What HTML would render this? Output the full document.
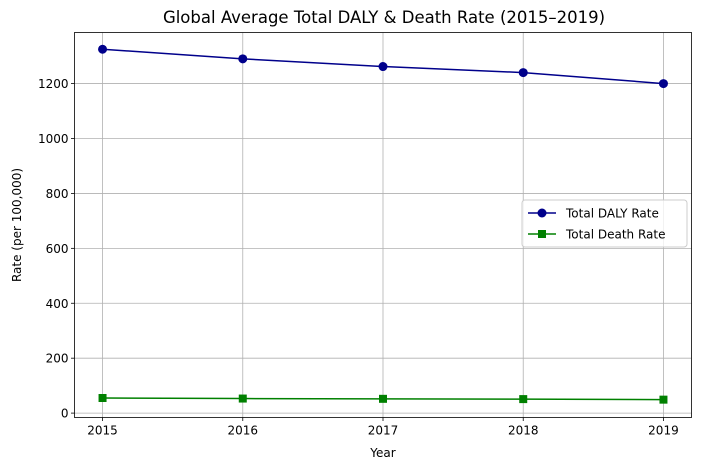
<!DOCTYPE html>
<html><head><meta charset="utf-8"><style>
body{margin:0;background:#fff;font-family:"DejaVu Sans","Liberation Sans",sans-serif;}
svg text{font-family:"DejaVu Sans","Liberation Sans",sans-serif;}
</style></head><body>
<svg id="c" width="704" height="470" xmlns="http://www.w3.org/2000/svg"></svg>
<script>
const years=[2015,2016,2017,2018,2019];
const dalyRate=[1325,1290,1262,1240,1200];
const deathRate=[55,53,52,51,49];
const yTicks=[0,200,400,600,800,1000,1200];
const L=74.5,R=691.5,T=32.5,B=417.5;
const xMin=2014.8,xMax=2019.2,yMin=-16,yMax=1386;
const X=v=>L+(v-xMin)/(xMax-xMin)*(R-L);
const Y=v=>B-(v-yMin)/(yMax-yMin)*(B-T);
const svg=document.getElementById('c');
const NS='http://www.w3.org/2000/svg';
function mk(t,a,p){const e=document.createElementNS(NS,t);for(const k in a)e.setAttribute(k,a[k]);(p||svg).appendChild(e);return e;}
let t=mk('text',{x:384,y:23,'text-anchor':'middle','font-size':16.5,fill:'#000'});t.textContent='Global Average Total DALY & Death Rate (2015–2019)';


years.forEach(yr=>{const x=X(yr);
 const g=mk('line',{x1:x,x2:x,y1:T,y2:B,stroke:'#b0b0b0','stroke-width':0.8});
 
 
 mk('line',{x1:x,x2:x,y1:B,y2:B+3.5,stroke:'#000','stroke-width':0.8});
 const l=mk('text',{x:x,y:B+17,'text-anchor':'middle','font-size':12});l.textContent=yr;
 
 
});
yTicks.forEach(v=>{const y=Y(v);
 const g=mk('line',{x1:L,x2:R,y1:y,y2:y,stroke:'#b0b0b0','stroke-width':0.8});
 
 
 mk('line',{x1:L-3.5,x2:L,y1:y,y2:y,stroke:'#000','stroke-width':0.8});
 const l=mk('text',{x:L-6,y:y+4.5,'text-anchor':'end','font-size':12});l.textContent=v;
 
 
});
const fr=mk('rect',{x:L,y:T,width:R-L,height:B-T,fill:'none',stroke:'#000','stroke-width':0.8});


let xl=mk('text',{x:(L+R)/2,y:457,'text-anchor':'middle','font-size':12});xl.textContent='Year';


let yl=mk('text',{x:0,y:0,'text-anchor':'middle','font-size':12,transform:`translate(21,${(T+B)/2}) rotate(-90)`});yl.textContent='Rate (per 100,000)';


function series(vals,color,shape,name){
 const pl=mk('polyline',{points:vals.map((v,i)=>X(years[i])+','+Y(v)).join(' '),fill:'none',stroke:color,'stroke-width':1.5});
 
 
 vals.forEach((v,i)=>{let m;
  if(shape==='o')m=mk('circle',{cx:X(years[i]),cy:Y(v),r:4.5,fill:color});
  else m=mk('rect',{x:X(years[i])-4,y:Y(v)-4,width:8,height:8,fill:color});
  
  
 });
}
series(dalyRate,'#00008b','o','daly-rate');
series(deathRate,'#008000','s','death-rate');
const lg=mk('g',{});


mk('rect',{x:522,y:200,width:165,height:47,rx:3,fill:'#fff','fill-opacity':0.8,stroke:'#ccc'},lg);
mk('line',{x1:528,x2:556,y1:213,y2:213,stroke:'#00008b','stroke-width':1.5},lg);
mk('circle',{cx:542,cy:213,r:4.5,fill:'#00008b'},lg);
let a=mk('text',{x:566,y:217.5,'font-size':12},lg);a.textContent='Total DALY Rate';


mk('line',{x1:528,x2:556,y1:234,y2:234,stroke:'#008000','stroke-width':1.5},lg);
mk('rect',{x:538,y:230,width:8,height:8,fill:'#008000'},lg);
let b=mk('text',{x:566,y:238.5,'font-size':12},lg);b.textContent='Total Death Rate';


</script>
</body></html>
